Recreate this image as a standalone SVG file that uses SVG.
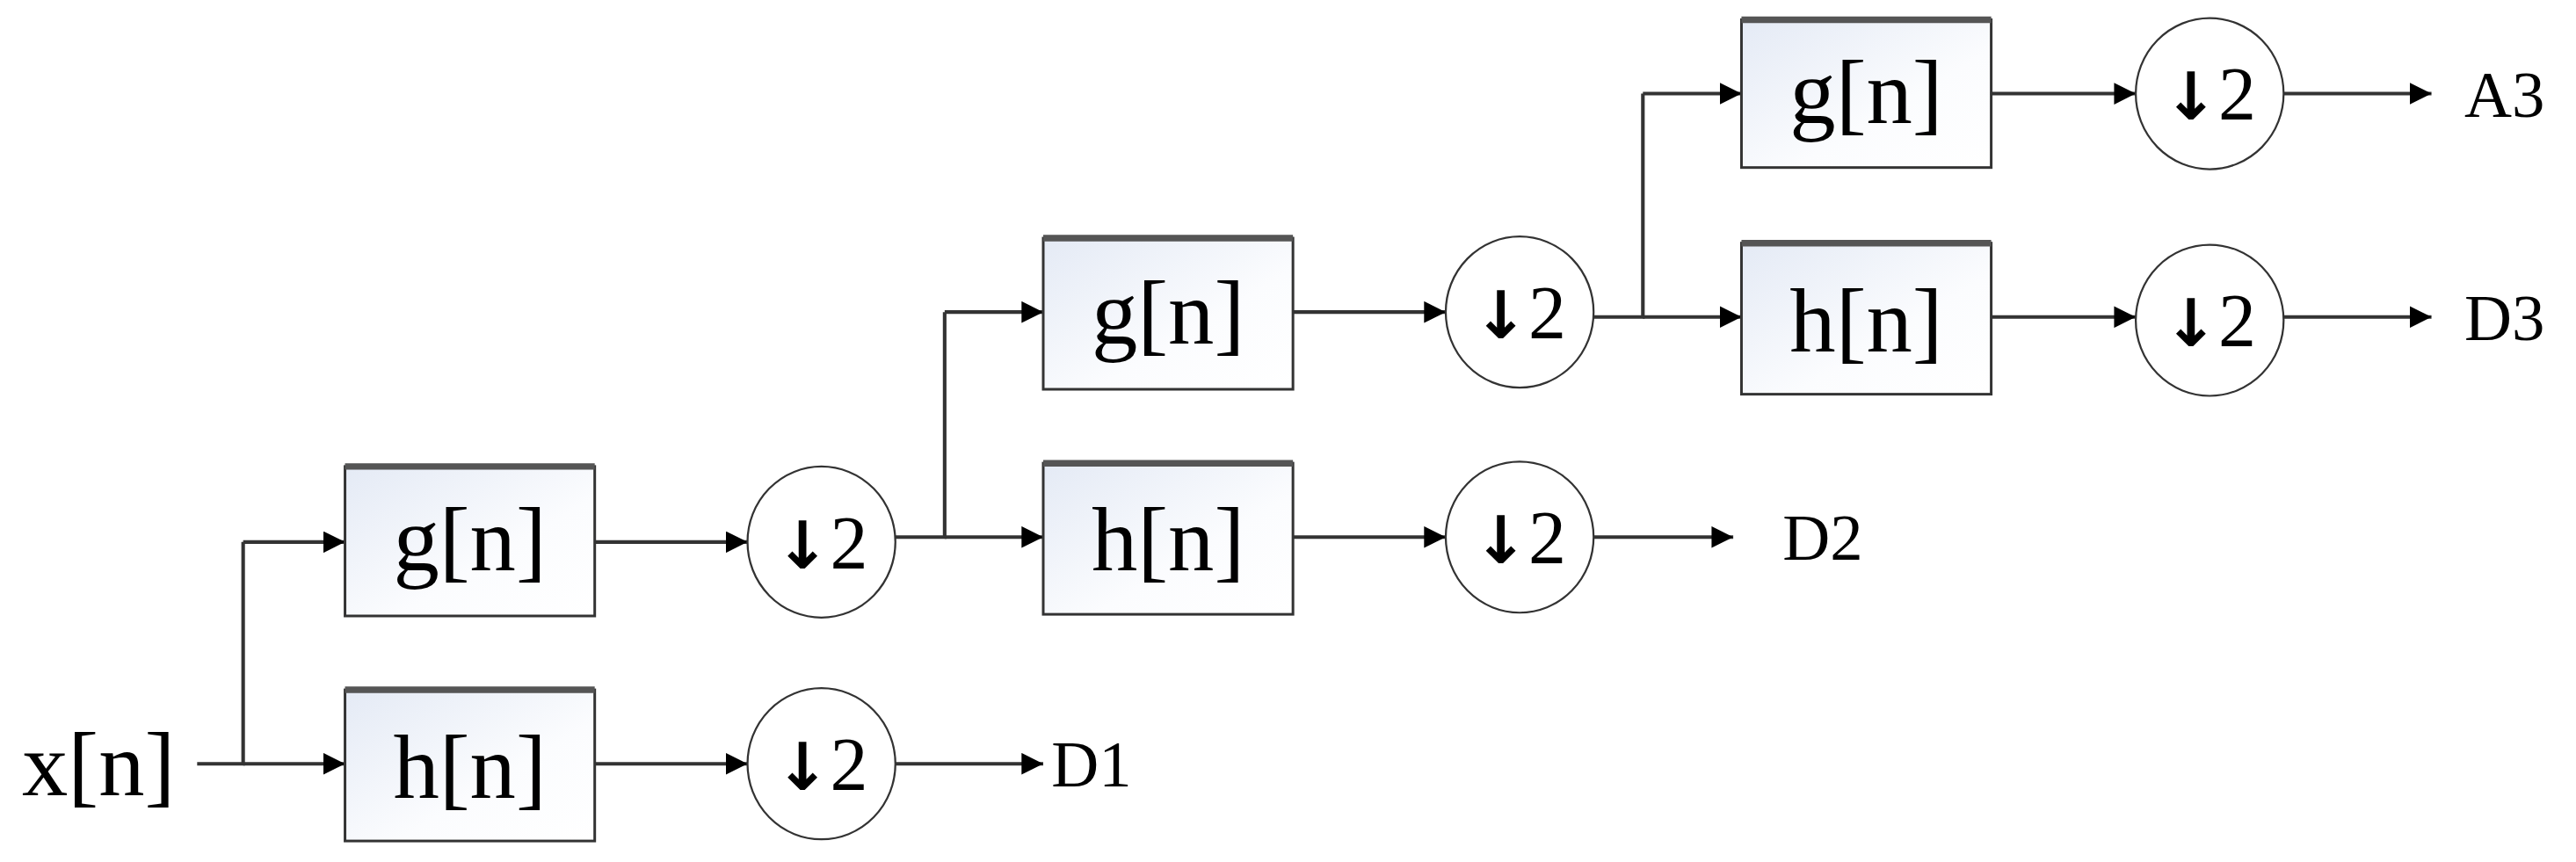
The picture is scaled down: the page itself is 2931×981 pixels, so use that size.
<svg xmlns="http://www.w3.org/2000/svg" width="2931" height="981" viewBox="0 0 2931 981">
<defs>
<linearGradient id="bg" x1="0" y1="0" x2="1" y2="1"><stop offset="0" stop-color="#e4eaf5"/><stop offset="0.6" stop-color="#fbfcfe"/><stop offset="1" stop-color="#ffffff"/></linearGradient>
<marker id="ar" viewBox="0 0 10 10" refX="10" refY="5" markerWidth="6" markerHeight="6" markerUnits="strokeWidth" orient="auto"><path d="M0,0 L10,5 L0,10 z" fill="#000"/></marker>
</defs>
<style>
.box{fill:url(#bg);stroke:#333;stroke-width:1.6}
.top{stroke:#555;stroke-width:4}
.ds{fill:#fff;stroke:#333;stroke-width:1.2}
.lbl{font-family:"Liberation Serif",serif;font-size:56px;text-anchor:middle}
.dl{font-family:"Liberation Serif",serif;font-size:40px}
.dn{font-family:"Liberation Serif",serif;font-size:46px;text-anchor:middle}
.c{fill:none;stroke:#333;stroke-width:2.2}
.ca{fill:none;stroke:#333;stroke-width:2.2;marker-end:url(#ar)}
</style>
<rect width="2931" height="981" fill="#fff"/>
<g transform="scale(1.8693)">
<g id="connectors">
<path class="c" d="M120,465 H148 V330"/>
<path class="ca" d="M148,330 H210"/>
<path class="ca" d="M148,465 H210"/>
<path class="ca" d="M362,330 H455"/>
<path class="ca" d="M362,465 H455"/>
<path class="ca" d="M545,465 H635"/>
<path class="c" d="M545,327 H575 V190"/>
<path class="ca" d="M575,190 H635"/>
<path class="ca" d="M575,327 H635"/>
<path class="ca" d="M787,190 H880"/>
<path class="ca" d="M787,327 H880"/>
<path class="ca" d="M970,327 H1055"/>
<path class="c" d="M970,193 H1000 V57"/>
<path class="ca" d="M1000,57 H1060"/>
<path class="ca" d="M1000,193 H1060"/>
<path class="ca" d="M1212,57 H1300"/>
<path class="ca" d="M1212,193 H1300"/>
<path class="ca" d="M1390,57 H1480"/>
<path class="ca" d="M1390,193 H1480"/>
</g>
<g id="xn"><text class="lbl" x="60" y="484">x[n]</text></g>
<g id="g1"><rect class="box" x="210" y="284" width="152" height="91"/><line class="top" x1="210" y1="284" x2="362" y2="284"/><text class="lbl" x="286" y="347">g[n]</text></g>
<g id="h1"><rect class="box" x="210" y="420" width="152" height="92"/><line class="top" x1="210" y1="420" x2="362" y2="420"/><text class="lbl" x="286" y="486">h[n]</text></g>
<g id="d1"><ellipse class="ds" cx="500" cy="330" rx="45" ry="46"/><text class="dn" x="500" y="346"><tspan font-family="DejaVu Sans" font-weight="bold" font-size="40">↓</tspan>2</text></g>
<g id="d1b"><ellipse class="ds" cx="500" cy="465" rx="45" ry="46"/><text class="dn" x="500" y="481"><tspan font-family="DejaVu Sans" font-weight="bold" font-size="40">↓</tspan>2</text></g>
<g id="g2"><rect class="box" x="635" y="145" width="152" height="92"/><line class="top" x1="635" y1="145" x2="787" y2="145"/><text class="lbl" x="711" y="209">g[n]</text></g>
<g id="h2"><rect class="box" x="635" y="282" width="152" height="92"/><line class="top" x1="635" y1="282" x2="787" y2="282"/><text class="lbl" x="711" y="347">h[n]</text></g>
<g id="d2"><ellipse class="ds" cx="925" cy="190" rx="45" ry="46"/><text class="dn" x="925" y="206"><tspan font-family="DejaVu Sans" font-weight="bold" font-size="40">↓</tspan>2</text></g>
<g id="d2b"><ellipse class="ds" cx="925" cy="327" rx="45" ry="46"/><text class="dn" x="925" y="343"><tspan font-family="DejaVu Sans" font-weight="bold" font-size="40">↓</tspan>2</text></g>
<g id="g3"><rect class="box" x="1060" y="12" width="152" height="90"/><line class="top" x1="1060" y1="12" x2="1212" y2="12"/><text class="lbl" x="1136" y="75">g[n]</text></g>
<g id="h3"><rect class="box" x="1060" y="148" width="152" height="92"/><line class="top" x1="1060" y1="148" x2="1212" y2="148"/><text class="lbl" x="1136" y="214">h[n]</text></g>
<g id="d3"><ellipse class="ds" cx="1345" cy="57" rx="45" ry="46"/><text class="dn" x="1345" y="73"><tspan font-family="DejaVu Sans" font-weight="bold" font-size="40">↓</tspan>2</text></g>
<g id="d3b"><ellipse class="ds" cx="1345" cy="195" rx="45" ry="46"/><text class="dn" x="1345" y="211"><tspan font-family="DejaVu Sans" font-weight="bold" font-size="40">↓</tspan>2</text></g>
<g id="outs">
<text class="dl" x="640" y="479">D1</text>
<text class="dl" x="1085" y="341">D2</text>
<text class="dl" x="1500" y="71">A3</text>
<text class="dl" x="1500" y="207">D3</text>
</g>
</g>
</svg>
